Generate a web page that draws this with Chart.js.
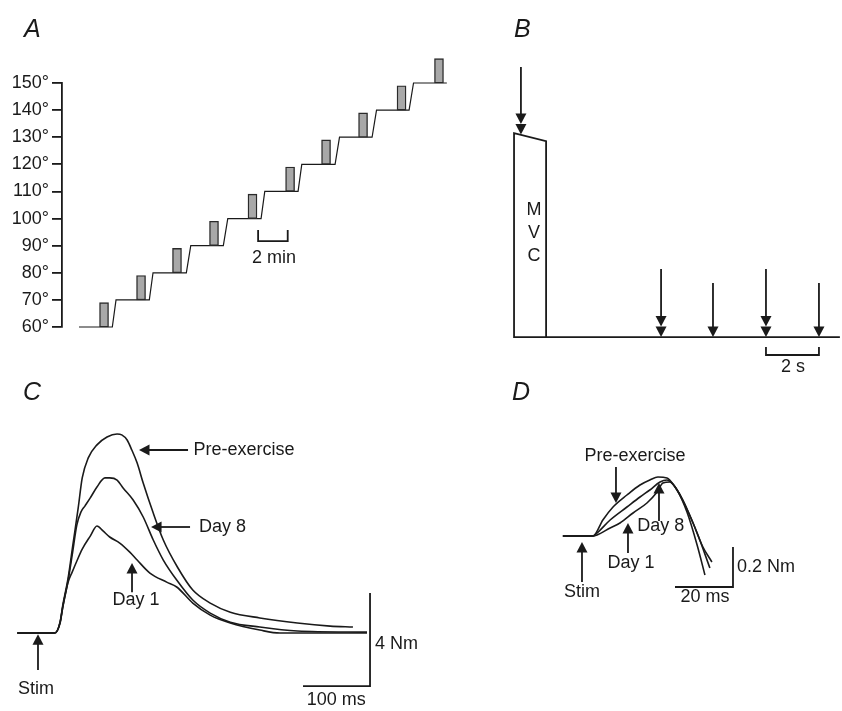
<!DOCTYPE html>
<html>
<head>
<meta charset="utf-8">
<title>Knee angle protocol and twitch torque</title>
<script src="https://cdn.jsdelivr.net/npm/chart.js@4.4.1/dist/chart.umd.min.js"></script>
<style>
  body { margin: 0; background: #fff; }
  #page { position: relative; width: 842px; height: 711px; overflow: hidden; font-family: "Liberation Sans", Arial, sans-serif; color: #1a1a1a; }
  #page canvas { position: absolute; }
  .panel { position: absolute; font-style: italic; font-size: 25px; line-height: 25px; }
</style>
</head>
<body>
<div id="page">
  <canvas id="chartA" width="460" height="305" style="left:0;top:40px"></canvas>
  <canvas id="chartB" width="342" height="345" style="left:500px;top:40px"></canvas>
  <canvas id="chartC" width="430" height="291" style="left:0;top:420px"></canvas>
  <canvas id="chartD" width="302" height="291" style="left:540px;top:420px"></canvas>
  <div class="panel" style="left:24px;top:16px">A</div>
  <div class="panel" style="left:514px;top:16px">B</div>
  <div class="panel" style="left:23px;top:379px">C</div>
  <div class="panel" style="left:512px;top:379px">D</div>
</div>
<script>
// ---- A: knee angle staircase (min, degrees)
const angleLevels = [60, 70, 80, 90, 100, 110, 120, 130, 140, 150];
const levelStartMin = [1.15, 3.65, 6.15, 8.7, 11.2, 13.7, 16.2, 18.75, 21.25, 23.75];
const levelEndMin = [3.4, 5.9, 8.4, 10.9, 13.45, 15.95, 18.45, 20.95, 23.45, 26.0];
const mvcTimeMin = [2.84, 5.34, 7.77, 10.27, 12.87, 15.41, 17.84, 20.34, 22.94, 25.47];
const mvcTopDeg = [69, 79, 89, 99, 109, 119, 129, 139, 149, 159];
const minBarX = [13.25, 15.25];
const minBarY = [95.8, 91.7];

// ---- B: MVC then test stimuli (s, % MVC)
const mvcOutlineS = [1.21, 1.21, 0, 0, 12.3];
const mvcOutlineV = [0, 96, 100, 0, 0];
const stimTimesS = [5.55, 7.51, 9.51, 11.51];
const stimTopV = [33.3, 26.5, 33.3, 26.5];
const stimHeads = [2, 1, 2, 1];
const secBarX = [9.51, 11.51];
const secBarY = [-4.9, -8.8];

// ---- C: twitch torque (ms, Nm)
const preT = [-31, 25, 33, 37, 45, 52, 60, 66, 75, 88, 103, 118, 125, 133, 140, 148, 157, 172, 187, 208, 231, 257, 287, 331, 387, 436, 470];
const preV = [0, 0, 0.47, 1.2, 2.37, 3.78, 5.38, 6.67, 7.53, 8.09, 8.43, 8.56, 8.52, 8.3, 7.87, 7.31, 6.45, 5.16, 4.0, 2.84, 1.85, 1.29, 0.9, 0.65, 0.43, 0.3, 0.26];
const day8T = [-31, 25, 33, 37, 45, 51, 58, 64, 70, 78, 88, 100, 107, 118, 127, 142, 157, 172, 187, 207, 231, 257, 287, 331, 387, 491];
const day8V = [0, 0, 0.43, 1.12, 2.28, 3.35, 4.65, 5.2, 5.46, 5.81, 6.28, 6.67, 6.67, 6.58, 6.24, 5.72, 4.99, 4.0, 3.14, 2.28, 1.42, 0.86, 0.47, 0.26, 0.09, 0.04];
const day1T = [-31, 25, 33, 37, 45, 51, 58, 66, 78, 88, 97, 107, 122, 137, 148, 167, 192, 207, 231, 257, 287, 331, 361, 491];
const day1V = [0, 0, 0.47, 1.12, 2.19, 2.62, 3.1, 3.61, 4.17, 4.6, 4.39, 4.13, 3.87, 3.48, 3.14, 2.58, 2.19, 1.98, 1.29, 0.77, 0.43, 0.13, 0, 0];

// ---- D: early rise of the twitch (ms, Nm)
const dPreT = [-6.6, 3.8, 7.2, 10.7, 15.5, 20, 23.4, 26.2, 29.3, 32.1, 34.8, 38.3, 41.7, 44.8];
const dPreV = [0, 0, 0.08, 0.145, 0.205, 0.255, 0.28, 0.295, 0.29, 0.245, 0.18, 0.065, -0.055, -0.13];
const dDay8T = [-6.6, 3.8, 5.2, 9.7, 15.5, 20, 23.4, 26.9, 29.3, 32.1, 35.5, 39.7, 44.1];
const dDay8V = [0, 0, 0.015, 0.08, 0.145, 0.195, 0.23, 0.27, 0.28, 0.245, 0.155, 0.015, -0.16];
const dDay1T = [-6.6, 3.8, 5.2, 9.7, 13.1, 17.6, 22.4, 25.9, 27.9, 30.3, 32.8, 36.2, 39.7, 42.4];
const dDay1V = [0, 0, 0.005, 0.04, 0.065, 0.115, 0.165, 0.22, 0.265, 0.27, 0.23, 0.12, -0.045, -0.195];

const INK = '#1a1a1a';
const FONT = '18px "Liberation Sans", Arial, sans-serif';

function pts(xs, ys) {
    return xs.map((x, i) => ({ x: x, y: ys[i] }));
}

function trace(data, width) {
    return {
        type: 'line',
        data: data,
        borderColor: INK,
        borderWidth: width || 1.6,
        pointRadius: 0,
        fill: false,
        tension: 0,
        clip: false
    };
}

// arrow with one or two stacked heads, tip at (x2, y2)
function drawArrow(ctx, x1, y1, x2, y2, heads) {
    const ang = Math.atan2(y2 - y1, x2 - x1);
    const ux = Math.cos(ang), uy = Math.sin(ang);
    const len = 10.5, half = 5.5;
    ctx.beginPath();
    ctx.moveTo(x1, y1);
    ctx.lineTo(x2 - ux * len * heads * 0.8, y2 - uy * len * heads * 0.8);
    ctx.stroke();
    for (let k = 0; k < heads; k++) {
        const tx = x2 - ux * len * k, ty = y2 - uy * len * k;
        ctx.beginPath();
        ctx.moveTo(tx, ty);
        ctx.lineTo(tx - ux * len - uy * half, ty - uy * len + ux * half);
        ctx.lineTo(tx - ux * len + uy * half, ty - uy * len - ux * half);
        ctx.closePath();
        ctx.fill();
    }
}

// arrows: [x1, y1, x2, y2, heads]; labels: [text, x, y, align]
function notes(arrows, labels) {
    return {
        id: 'notes',
        afterDatasetsDraw(chart) {
            const ctx = chart.ctx;
            const xs = chart.scales.x, ys = chart.scales.y;
            ctx.save();
            ctx.strokeStyle = INK;
            ctx.fillStyle = INK;
            ctx.lineWidth = 1.8;
            arrows.forEach(a => {
                drawArrow(ctx, xs.getPixelForValue(a[0]), ys.getPixelForValue(a[1]),
                    xs.getPixelForValue(a[2]), ys.getPixelForValue(a[3]), a[4] || 1);
            });
            ctx.font = FONT;
            ctx.textBaseline = 'middle';
            labels.forEach(l => {
                ctx.textAlign = l[3] || 'center';
                ctx.fillText(l[0], xs.getPixelForValue(l[1]), ys.getPixelForValue(l[2]));
            });
            ctx.restore();
        }
    };
}

function baseOptions(xMin, xMax, yMin, yMax) {
    return {
        responsive: false,
        animation: false,
        events: [],
        layout: { padding: 0 },
        plugins: { legend: { display: false }, tooltip: { enabled: false } },
        scales: {
            x: { type: 'linear', display: false, min: xMin, max: xMax, offset: false },
            y: { type: 'linear', display: false, min: yMin, max: yMax }
        }
    };
}

// ---------------- Panel A
const stairs = [];
angleLevels.forEach((lv, i) => {
    stairs.push({ x: levelStartMin[i], y: lv });
    stairs.push({ x: levelEndMin[i], y: lv });
});

const optA = baseOptions(0, 26.89, 60, 150);
optA.layout.padding = { top: 43, bottom: 18, left: 0, right: 0 };
optA.scales.y = {
    type: 'linear',
    min: 60,
    max: 150,
    afterFit: function(scale) { scale.width = 62; },
    border: { display: true, color: INK, width: 1.8 },
    grid: { display: true, drawOnChartArea: false, drawTicks: true, tickLength: 10, color: INK, lineWidth: 1.8 },
    ticks: {
        stepSize: 10,
        autoSkip: false,
        padding: 3,
        color: INK,
        font: { family: '"Liberation Sans", Arial, sans-serif', size: 18 },
        callback: function(v) { return v + '°'; }
    }
};

new Chart(document.getElementById('chartA'), {
    type: 'line',
    data: {
        datasets: [
            Object.assign(trace(stairs, 1.2), { order: 2 }),
            {
                type: 'bar',
                data: mvcTimeMin.map((t, i) => ({ x: t, y: [angleLevels[i], mvcTopDeg[i]] })),
                backgroundColor: '#a8a8a8',
                borderColor: '#2a2a2a',
                borderWidth: 1.4,
                borderSkipped: false,
                barThickness: 9,
                grouped: false,
                clip: false,
                order: 1
            },
            trace([
                { x: minBarX[0], y: minBarY[0] }, { x: minBarX[0], y: minBarY[1] },
                { x: minBarX[1], y: minBarY[1] }, { x: minBarX[1], y: minBarY[0] }
            ], 1.8)
        ]
    },
    options: optA,
    plugins: [notes([], [['2 min', 14.32, 85.5]])]
});

// ---------------- Panel B
new Chart(document.getElementById('chartB'), {
    type: 'line',
    data: {
        datasets: [
            trace(pts(mvcOutlineS, mvcOutlineV), 1.8),
            trace([
                { x: secBarX[0], y: secBarY[0] }, { x: secBarX[0], y: secBarY[1] },
                { x: secBarX[1], y: secBarY[1] }, { x: secBarX[1], y: secBarY[0] }
            ], 1.8)
        ]
    },
    options: baseOptions(-0.53, 12.38, -23.5, 145.6),
    plugins: [notes(
        [[0.26, 132.4, 0.26, 99.3, 2]].concat(
            stimTimesS.map((t, i) => [t, stimTopV[i], t, 0, stimHeads[i]])),
        [['M', 0.75, 62.3], ['V', 0.75, 51.0], ['C', 0.75, 39.7], ['2 s', 10.53, -14.7]]
    )]
});

// ---------------- Panel C
const optC = baseOptions(-56.7, 585, -3.35, 9.16);
new Chart(document.getElementById('chartC'), {
    type: 'line',
    data: {
        datasets: [
            Object.assign(trace(pts(preT, preV)), { cubicInterpolationMode: 'monotone' }),
            Object.assign(trace(pts(day8T, day8V)), { cubicInterpolationMode: 'monotone' }),
            Object.assign(trace(pts(day1T, day1V)), { cubicInterpolationMode: 'monotone' }),
            trace([{ x: 395.5, y: -2.28 }, { x: 495.5, y: -2.28 }, { x: 495.5, y: 1.72 }], 1.8)
        ]
    },
    options: optC,
    plugins: [notes(
        [[223.9, 7.87, 150.7, 7.87, 1], [226.9, 4.56, 168.7, 4.56, 1],
         [140.3, 1.76, 140.3, 3.01, 1], [0, -1.59, 0, -0.05, 1]],
        [['Pre-exercise', 232, 7.87, 'left'], ['Day 8', 240.3, 4.56, 'left'],
         ['Day 1', 146.3, 1.42], ['Stim', -3, -2.41], ['4 Nm', 503, -0.47, 'left'],
         ['100 ms', 445, -2.88]]
    )]
});

// ---------------- Panel D
new Chart(document.getElementById('chartD'), {
    type: 'line',
    data: {
        datasets: [
            Object.assign(trace(pts(dPreT, dPreV)), { cubicInterpolationMode: 'monotone' }),
            Object.assign(trace(pts(dDay8T, dDay8V)), { cubicInterpolationMode: 'monotone' }),
            Object.assign(trace(pts(dDay1T, dDay1V)), { cubicInterpolationMode: 'monotone' }),
            trace([{ x: 32.07, y: -0.255 }, { x: 52.07, y: -0.255 }, { x: 52.07, y: -0.055 }], 1.8)
        ]
    },
    options: baseOptions(-14.48, 89.66, -0.875, 0.58),
    plugins: [notes(
        [[0, -0.23, 0, -0.03, 1], [15.86, -0.085, 15.86, 0.065, 1],
         [26.55, 0.075, 26.55, 0.265, 1], [11.72, 0.345, 11.72, 0.165, 1]],
        [['Pre-exercise', 18.3, 0.40], ['Day 8', 27.2, 0.05], ['Day 1', 16.9, -0.135],
         ['Stim', 0, -0.28], ['0.2 Nm', 53.45, -0.155, 'left'], ['20 ms', 42.4, -0.305]]
    )]
});
</script>
</body>
</html>
